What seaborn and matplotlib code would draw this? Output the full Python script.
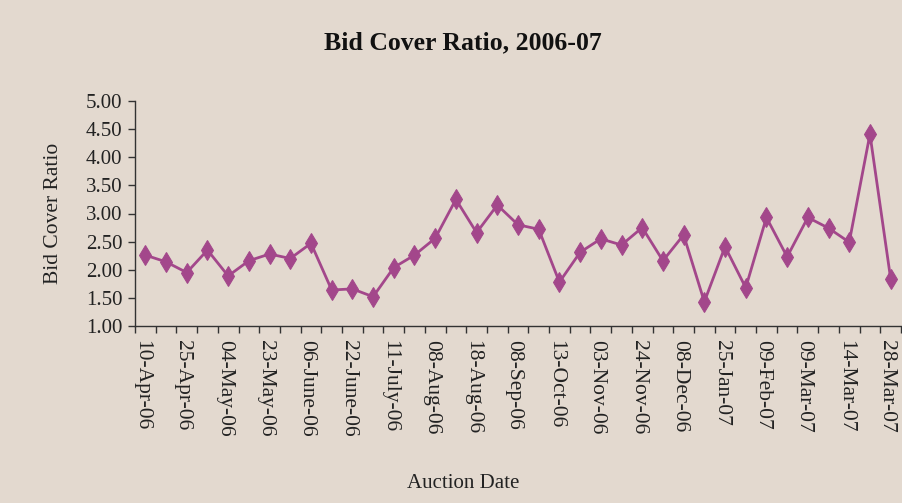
import matplotlib
matplotlib.use("Agg")
import matplotlib.pyplot as plt
import matplotlib.transforms as mtransforms
import seaborn as sns
import pandas as pd
import numpy as np

tick_labels = ["10-Apr-06", "25-Apr-06", "04-May-06", "23-May-06", "06-June-06",
               "22-June-06", "11-July-06", "08-Aug-06", "18-Aug-06", "08-Sep-06",
               "13-Oct-06", "03-Nov-06", "24-Nov-06", "08-Dec-06", "25-Jan-07",
               "09-Feb-07", "09-Mar-07", "14-Mar-07", "28-Mar-07"]

ratios = [2.26, 2.14, 1.95, 2.35, 1.89, 2.16, 2.28, 2.20, 2.47, 1.64,
          1.66, 1.52, 2.04, 2.26, 2.56, 3.25, 2.66, 3.15, 2.80, 2.72,
          1.78, 2.31, 2.55, 2.44, 2.75, 2.16, 2.62, 1.43, 2.41, 1.68,
          2.93, 2.23, 2.93, 2.74, 2.49, 4.41, 1.84]

bg = "#E3D9CF"
line_color = "#A3478B"

sns.set_theme(style="ticks")
plt.rcParams['font.family'] = ['Liberation Serif', 'DejaVu Serif']

df = pd.DataFrame({"idx": np.arange(len(ratios)), "ratio": ratios})

fig = plt.figure(figsize=(9.03, 5.03), dpi=100, facecolor=bg)
ax = fig.add_axes([135/903, 1-326/503, (901-135)/903, (326-101)/503])
ax.set_facecolor(bg)

sns.lineplot(data=df, x="idx", y="ratio", ax=ax, color=line_color, linewidth=2.0,
             marker="d", markersize=10, markeredgecolor=line_color, markerfacecolor=line_color)

ax.set_xlim(-0.5, len(ratios) - 0.5)
ax.set_ylim(1.0, 5.0)
yt = np.arange(1.0, 5.01, 0.5)
ax.set_yticks(yt)
ax.set_yticklabels([f"{v:.2f}" for v in yt], fontsize=15, color="#222222")

label_pos = np.arange(0, len(ratios), 2)
ax.set_xticks(label_pos)
ax.set_xticklabels(tick_labels, rotation=-90, fontsize=15.5, color="#222222", va="top", ha="center")
ax.tick_params(axis="x", which="major", length=0, pad=10)
ax.set_xticks(np.arange(-0.5, len(ratios), 1), minor=True)
ax.tick_params(axis="x", which="minor", length=5, width=1, color="#333333", direction="out")
ax.tick_params(axis="y", length=5, width=1, color="#333333", direction="out", pad=4)

offset = mtransforms.ScaledTranslation(-4/100, 0, fig.dpi_scale_trans)
for lbl in ax.get_xticklabels():
    lbl.set_transform(lbl.get_transform() + offset)

for s in ["top", "right"]:
    ax.spines[s].set_visible(False)
for s in ["left", "bottom"]:
    ax.spines[s].set_color("#333333")
    ax.spines[s].set_linewidth(1)

ax.set_xlabel("Auction Date", fontsize=15, color="#222222")
ax.set_ylabel("Bid Cover Ratio", fontsize=15.5, color="#222222")
ax.yaxis.set_label_coords((63 - 135) / (901 - 135), 0.5)

fig.text(0.5 * (322 + 603) / 903, 1 - 43/503, "Bid Cover Ratio, 2006-07", fontsize=18.5,
         fontweight="bold", ha="center", va="center", color="#111111")

ax.xaxis.set_label_coords((463 - 135) / (901 - 135), (326 - 483) / (326 - 101))
ax.xaxis.label.set_va("center")

fig.savefig("out.png", dpi=100, facecolor=bg)
